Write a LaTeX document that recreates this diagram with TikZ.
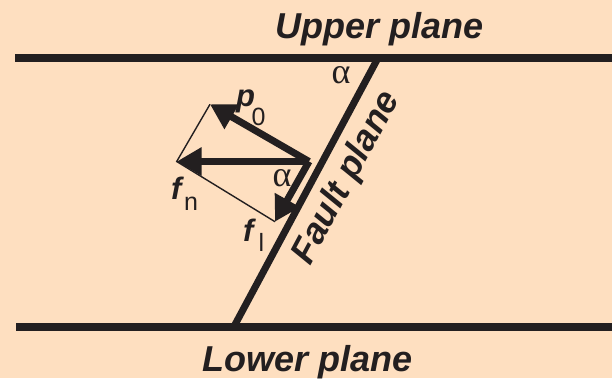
\documentclass[tikz,border=0pt]{standalone}
\usepackage{fontspec}
\setmainfont{Liberation Sans}
\newfontfamily\greekserif{Liberation Serif}
\usetikzlibrary{arrows.meta}
\definecolor{bgpeach}{RGB}{254,223,192}
\definecolor{ink}{RGB}{35,31,32}
\begin{document}
\begin{tikzpicture}[x=1pt,y=-1pt,
  plane/.style={draw=ink,line width=8pt},
  fault/.style={draw=ink,line width=7pt},
  vec/.style={draw=ink,line width=7pt,-{Triangle[length=25pt,width=27pt]}},
  thinl/.style={draw=ink,line width=1.4pt},
  title/.style={text=ink,font=\fontsize{36}{36}\selectfont\bfseries\itshape,inner sep=0pt,anchor=base},
  lab/.style={text=ink,font=\fontsize{31}{31}\selectfont,inner sep=0pt,anchor=base west},
  ang/.style={text=ink,font=\fontsize{36}{36}\selectfont\greekserif,inner sep=0pt}]
\fill[bgpeach] (0,0) rectangle (612,378);
\useasboundingbox (0,0) rectangle (612,378);
\coordinate (UL) at (15,58);
\coordinate (UR) at (612,58);
\coordinate (LL) at (16,326.5);
\coordinate (LR) at (612,326.5);
\coordinate (FB) at (234,326.5);
\coordinate (FT) at (378,58);
\coordinate (O) at (309,161.5);
\coordinate (P) at (210,104.3);
\coordinate (N) at (176.7,161.5);
\coordinate (L) at (275,221.7);
\draw[plane] (UL) -- (UR);
\draw[plane] (LL) -- (LR);
\draw[fault] (FB) -- (FT);
\draw[thinl] (P) -- (N) -- (L);
\draw[vec] (O) -- (P);
\draw[vec] (O) -- (N);
\draw[vec] (O) -- (L);
\node[title] (up) at (380,38.5) {Upper plane};
\node[title] (lo) at (307.5,371.7) {Lower plane};
\node[title,rotate=61.8] (fp) at (355,182.5) {Fault plane};
\node[ang] (a1) at (341,75.5) {α};
\node[ang] (a2) at (282,178) {α};
\node[lab] (lp) at (236,106) {\textbf{\textit{p}}\kern-3.5pt\raisebox{-19pt}{\fontsize{25}{25}\selectfont 0}};
\node[lab] (ln) at (171,199) {\textbf{\textit{f}}\raisebox{-11pt}{\fontsize{25}{25}\selectfont n}};
\node[lab] (ll) at (243,241) {\textbf{\textit{f}}\kern2.5pt\raisebox{-10pt}{\fontsize{25}{25}\selectfont l}};
\end{tikzpicture}
\end{document}
